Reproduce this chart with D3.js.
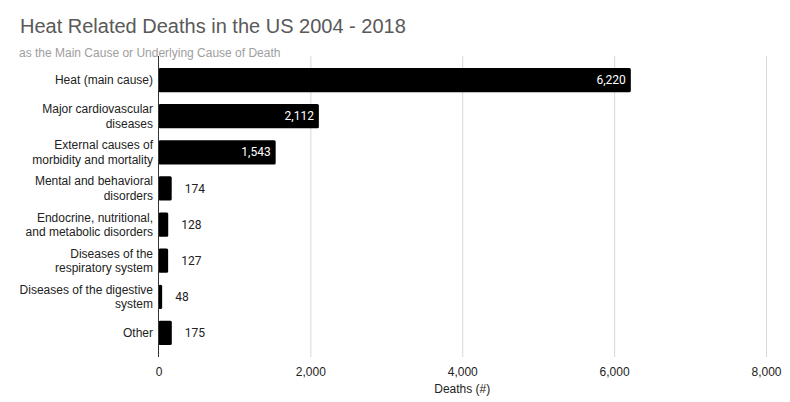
<!DOCTYPE html>
<html>
<head>
  <meta charset="utf-8">
  <title>Heat Related Deaths</title>
  <style>
  body { margin: 0; background: #fff; }
  .title { fill: #595959; font-size: 20px; font-family: "Liberation Sans", Arial, sans-serif; }
  .subtitle { fill: #9e9e9e; font-size: 12px; font-family: "Liberation Sans", Arial, sans-serif; }
  .cat { fill: #222; font-size: 12px; font-family: "Liberation Sans", Arial, sans-serif; text-anchor: end; }
  .val { font-size: 12px; font-family: Roboto, "Liberation Sans", sans-serif; }
  .grid line { stroke: #d9d9d9; stroke-width: 1px; }
  .grid path { display: none; }
  .x-axis text { fill: #222; font-size: 12px; font-family: "Liberation Sans", Arial, sans-serif; }
  .x-label { fill: #222; font-size: 12px; font-family: "Liberation Sans", Arial, sans-serif; text-anchor: middle; }
  </style>
</head>
<body>
  <div id="chart"></div>
  <script src="https://cdn.jsdelivr.net/npm/d3@7"></script>
  <script>
  //data
  var categories = [
    ["Heat (main cause)"],
    ["Major cardiovascular", "diseases"],
    ["External causes of", "morbidity and mortality"],
    ["Mental and behavioral", "disorders"],
    ["Endocrine, nutritional,", "and metabolic disorders"],
    ["Diseases of the", "respiratory system"],
    ["Diseases of the digestive", "system"],
    ["Other"]
  ];
  var deaths = [6220, 2112, 1543, 174, 128, 127, 48, 175];
  var xTicks = [0, 2000, 4000, 6000, 8000];

  var width = 790, height = 402;
  var plotLeft = 158.5, plotRight = 766, plotTop = 56, plotBottom = 357;

  var svg = d3.select("#chart").append("svg")
    .attr("width", width)
    .attr("height", height);

  var x = d3.scaleLinear().domain([0, 8000]).range([plotLeft, plotRight]);
  var y = d3.scaleBand().domain(d3.range(categories.length)).range([plotTop, plotBottom]).padding(0.33);

  //title and subtitle
  svg.append("text").attr("class", "title").attr("x", 20).attr("y", 33)
    .text("Heat Related Deaths in the US 2004 - 2018");
  svg.append("text").attr("class", "subtitle").attr("x", 19).attr("y", 57)
    .text("as the Main Cause or Underlying Cause of Death");

  //grid lines
  svg.append("g")
    .attr("class", "grid")
    .attr("transform", "translate(0," + plotBottom + ")")
    .call(d3.axisBottom(x).tickValues(xTicks.slice(1)).tickSize(-(plotBottom - plotTop)).tickFormat(""));

  //bars
  svg.selectAll(".bar")
    .data(deaths)
    .enter().append("rect")
    .attr("class", "bar")
    .attr("x", x(0))
    .attr("y", function(d, i) { return y(i); })
    .attr("width", function(d) { return x(d) - x(0); })
    .attr("height", y.bandwidth())
    .attr("rx", 1.5)
    .attr("fill", "#000");

  //zero line
  svg.append("line")
    .attr("x1", x(0)).attr("x2", x(0))
    .attr("y1", plotTop).attr("y2", plotBottom)
    .attr("stroke", "#333").attr("stroke-width", 1);

  //value labels
  var fmt = d3.format(",");
  svg.selectAll(".val")
    .data(deaths)
    .enter().append("text")
    .attr("class", "val")
    .attr("x", function(d) { return d > 1000 ? x(d) - 5 : x(d) + 13; })
    .attr("y", function(d, i) { return y(i) + y.bandwidth() / 2; })
    .attr("dy", "0.35em")
    .attr("text-anchor", function(d) { return d > 1000 ? "end" : "start"; })
    .attr("fill", function(d) { return d > 1000 ? "#fff" : "#222"; })
    .text(function(d) { return fmt(d); });

  //category labels
  var cat = svg.selectAll(".cat")
    .data(categories)
    .enter().append("text")
    .attr("class", "cat")
    .attr("x", 153)
    .attr("y", function(d, i) { return y(i) + y.bandwidth() / 2; });
  cat.selectAll("tspan")
    .data(function(d) { return d.map(function(t, j) { return { t: t, j: j, n: d.length }; }); })
    .enter().append("tspan")
    .attr("x", 153)
    .attr("dy", function(d) { return d.j === 0 ? (0.35 - (d.n - 1) * 0.6) + "em" : "1.2em"; })
    .text(function(d) { return d.t; });

  //x axis labels
  svg.append("g")
    .attr("class", "x-axis")
    .attr("transform", "translate(0," + plotBottom + ")")
    .call(d3.axisBottom(x).tickValues(xTicks).tickSize(0).tickPadding(10).tickFormat(fmt))
    .call(function(g) { g.select(".domain").remove(); });

  svg.append("text").attr("class", "x-label")
    .attr("x", (plotLeft + plotRight) / 2).attr("y", 393)
    .text("Deaths (#)");
  </script>
</body>
</html>
